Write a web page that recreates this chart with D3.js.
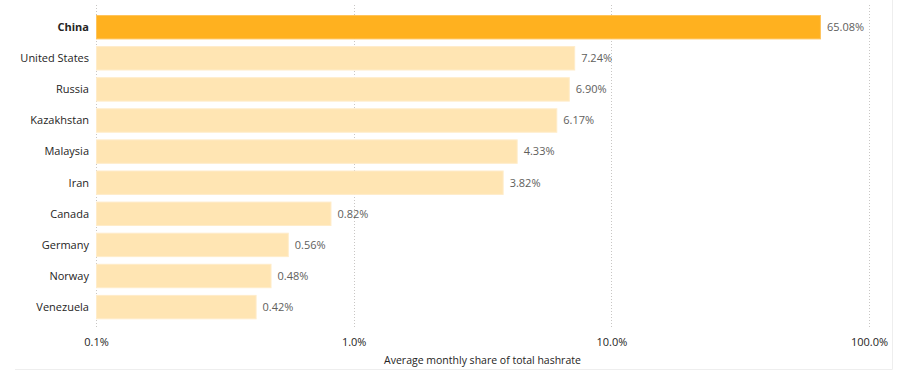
<!DOCTYPE html>
<html><head><meta charset="utf-8">
<script src="https://cdn.jsdelivr.net/npm/d3@7"></script>
<style>
html,body{margin:0;padding:0;background:#fff;}
svg{display:block;font-family:"Segoe UI","Open Sans","Noto Sans",sans-serif;}
</style></head>
<body>
<svg id="chart" width="924" height="379"></svg>
<script>
const countries = ["China","United States","Russia","Kazakhstan","Malaysia","Iran","Canada","Germany","Norway","Venezuela"];
const shares = [65.08,7.24,6.90,6.17,4.33,3.82,0.82,0.56,0.48,0.42];
const highlighted = ["China"];
const tickValues = [0.1,1,10,100];
const axisTitle = "Average monthly share of total hashrate";

(function(){
const svg = d3.select("#chart");
const mLeft = 96, mRight = 869, mTop = 15, rowStep = 31.1, padIn = 0.215;
const n = countries.length;

const x = d3.scaleLog().domain([0.1,100]).range([mLeft,mRight]);
const y = d3.scaleBand().domain(countries)
  .range([mTop, mTop + rowStep*(n - padIn)]).paddingInner(padIn).paddingOuter(0);

// frame
svg.append("line").attr("x1",892.5).attr("x2",892.5).attr("y1",0).attr("y2",369.5).attr("stroke","#eeeeee");
svg.append("line").attr("x1",15).attr("x2",892.5).attr("y1",369.5).attr("y2",369.5).attr("stroke","#eeeeee");

// grid
svg.append("g").selectAll("line").data(tickValues).join("line")
  .attr("x1",d=>Math.round(x(d))+0.5).attr("x2",d=>Math.round(x(d))+0.5)
  .attr("y1",5).attr("y2",329)
  .attr("stroke","#c8c6c4").attr("stroke-width",1).attr("stroke-dasharray","1,2");

// bars
svg.append("g").selectAll("rect").data(countries).join("rect")
  .attr("x",x(0.1)+0.5)
  .attr("y",d=>y(d)+0.5)
  .attr("width",(d,i)=>x(shares[i])-x(0.1)-1)
  .attr("height",y.bandwidth()-1)
  .attr("fill",d=>highlighted.includes(d)?"#ffb11f":"#ffe5b3")
  .attr("stroke",d=>highlighted.includes(d)?"#ffc45c":"#ffecc9")
  .attr("stroke-width",1);

// category labels
svg.append("g").selectAll("text").data(countries).join("text")
  .attr("x",89).attr("y",d=>y(d)+y.bandwidth()/2)
  .attr("dy","0.35em").attr("text-anchor","end")
  .attr("font-size",11).attr("fill","#252423")
  .attr("font-weight",d=>highlighted.includes(d)?"bold":"normal")
  .text(d=>d);

// value labels
svg.append("g").selectAll("text").data(countries).join("text")
  .attr("x",(d,i)=>x(shares[i])+6).attr("y",d=>y(d)+y.bandwidth()/2)
  .attr("dy","0.35em").attr("text-anchor","start")
  .attr("font-size",11).attr("fill","#605e5c")
  .text((d,i)=>shares[i].toFixed(2)+"%");

// x axis
const xAxis = d3.axisBottom(x).tickValues(tickValues).tickSize(0).tickPadding(0)
  .tickFormat(d=>d.toFixed(1)+"%");
const gx = svg.append("g").attr("transform","translate(0,338)").call(xAxis);
gx.select(".domain").remove();
gx.selectAll("text").attr("font-size",11).attr("fill","#252423");
gx.attr("font-family",null);

svg.append("text").attr("x",(mLeft+mRight)/2).attr("y",364)
  .attr("text-anchor","middle").attr("font-size",10.5).attr("fill","#252423")
  .text(axisTitle);
})();
</script>
</body></html>
